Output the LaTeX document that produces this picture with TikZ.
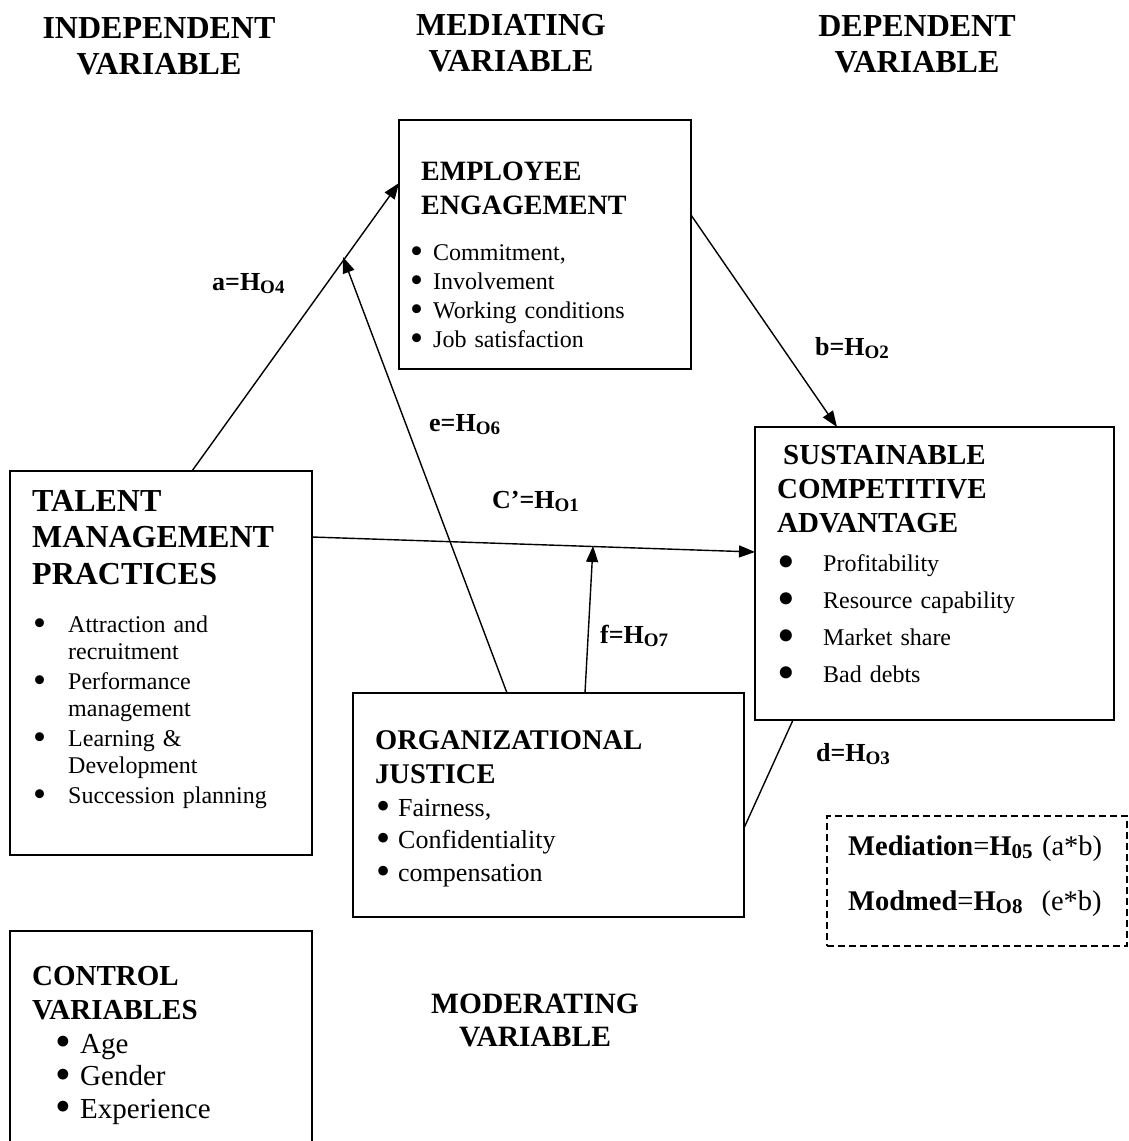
\documentclass[tikz,border=0pt]{standalone}
\usepackage{fontspec}
\usepackage{graphicx}
\setmainfont{Liberation Serif}
\usetikzlibrary{arrows.meta}

% bullet set in a box of given width, and a bigger one for the outcome list
\newcommand{\bul}[1]{\makebox[#1][l]{\smash{\raisebox{-0.13em}{\scalebox{1.55}{\textbullet}}}}}
\newcommand{\bigbul}{\makebox[46pt][l]{\smash{\raisebox{-0.3em}{\scalebox{2.1}{\textbullet}}}}}
% hypothesis label: letter = H with a lowered index
\newcommand{\hyp}[2]{#1=H\raisebox{-3pt}{\fontsize{19}{19}\selectfont #2}}
\newcommand{\msub}[1]{\raisebox{-3pt}{\fontsize{21}{21}\selectfont\bfseries #1}}

\begin{document}
\begin{tikzpicture}[x=1pt,y=-1pt,
    tbox/.style={draw, line width=2pt, inner sep=0pt, outer sep=0pt, anchor=north west},
    btext/.style={inner sep=0pt, anchor=base west, align=left, text width=#1},
    head/.style={inner sep=0pt, anchor=base, align=center, text width=300pt,
                 font=\fontsize{32}{36.5}\selectfont\bfseries},
    hlabel/.style={inner sep=0pt, anchor=base west, font=\fontsize{26}{26}\selectfont\bfseries},
    link/.style={line width=1.4pt, -{Triangle[length=16pt,width=12pt]}}]
  \useasboundingbox (0,0) rectangle (1128,1141);

  % --------------
  % column headings
  % --------------
  \node[head] (indep) at (159,38) {INDEPENDENT\\VARIABLE};
  \node[head] (medi) at (511,35) {MEDIATING\\VARIABLE};
  \node[head] (dep) at (917,36) {DEPENDENT\\VARIABLE};
  \node[head, font=\fontsize{29.5}{33}\selectfont\bfseries] (moder) at (535,1013) {MODERATING\\VARIABLE};

  % ---------
  % the boxes
  % ---------
  \node[tbox, minimum width=292pt, minimum height=249pt] (ee) at (399,120) {};
  \node[tbox, minimum width=302pt, minimum height=384pt] (tmp) at (10,471) {};
  \node[tbox, minimum width=359pt, minimum height=293pt] (sca) at (755,427) {};
  \node[tbox, minimum width=391pt, minimum height=224pt] (oj) at (353,693) {};
  \node[tbox, minimum width=302pt, minimum height=240pt] (ctrl) at (10,931) {};
  \node[tbox, dash pattern=on 7pt off 4pt, minimum width=300pt, minimum height=130pt] (med) at (827,816) {};

  % ------------------
  % texts of the boxes
  % ------------------
  \node[btext=270pt, font=\fontsize{28}{34}\selectfont\bfseries] (ee-title) at (421,180) {EMPLOYEE\\ENGAGEMENT};
  \node[btext=270pt, font=\fontsize{24}{29}\selectfont] (ee-list) at (410,260)
    {\bul{23pt}Commitment,\\\bul{23pt}Involvement\\\bul{23pt}Working conditions\\\bul{23pt}Job satisfaction};

  \node[btext=280pt, font=\fontsize{32}{36.5}\selectfont\bfseries] (tmp-title) at (32,511) {TALENT\\MANAGEMENT\\PRACTICES};
  \node[btext=270pt, font=\fontsize{24}{27}\selectfont] (tmp-list) at (33,632)
    {\bul{35pt}Attraction and\\\hspace*{35pt}recruitment\\[3pt]\bul{35pt}Performance\\\hspace*{35pt}management\\[3pt]%
     \bul{35pt}Learning \&\\\hspace*{35pt}Development\\[3pt]\bul{35pt}Succession planning};

  \node[btext=330pt, font=\fontsize{29}{34}\selectfont\bfseries] (sca-title) at (777,464)
    {\hspace*{6pt}SUSTAINABLE\\COMPETITIVE\\ADVANTAGE};
  \node[btext=330pt, font=\fontsize{24}{37}\selectfont] (sca-list) at (777,571)
    {\bigbul Profitability\\\bigbul Resource capability\\\bigbul Market share\\\bigbul Bad debts};

  \node[btext=360pt, font=\fontsize{28.5}{34}\selectfont\bfseries] (oj-title) at (375,749) {ORGANIZATIONAL\\JUSTICE};
  \node[btext=360pt, font=\fontsize{26}{32.5}\selectfont] (oj-list) at (376,816)
    {\bul{22pt}Fairness,\\\bul{22pt}Confidentiality\\\bul{22pt}compensation};

  \node[btext=270pt, font=\fontsize{29}{34}\selectfont\bfseries] (ctrl-title) at (32,985) {CONTROL\\VARIABLES};
  \node[btext=250pt, font=\fontsize{29}{32.5}\selectfont] (ctrl-list) at (55,1053)
    {\bul{25pt}Age\\\bul{25pt}Gender\\\bul{25pt}Experience};

  \node[btext=280pt, font=\fontsize{28.5}{55}\selectfont] (med-text) at (848,855)
    {\textbf{Mediation}=\textbf{H\msub{05}} (a*b)\\\textbf{Modmed}=\textbf{H\msub{O8}}\ \ (e*b)};

  % -----------------
  % hypothesis labels
  % -----------------
  \node[hlabel] (lab-a) at (212,290) {\hyp{a}{O4}};
  \node[hlabel] (lab-b) at (815,355) {\hyp{b}{O2}};
  \node[hlabel] (lab-e) at (429,431) {\hyp{e}{O6}};
  \node[hlabel] (lab-c) at (492,508) {\hyp{C’}{O1}};
  \node[hlabel] (lab-f) at (600,643) {\hyp{f}{O7}};
  \node[hlabel] (lab-d) at (816,761) {\hyp{d}{O3}};

  % ----------
  % connectors
  % ----------
  \coordinate (etip) at (343,257);
  \coordinate (ftip) at (593,546);
  \draw[link] ([xshift=182pt]tmp.north west) -- ([yshift=-63pt]ee.north west);
  \draw[link] ([yshift=-95pt]ee.north east) -- ([xshift=82pt]sca.north west);
  \draw[link] ([yshift=-66pt]tmp.north east) -- ([yshift=-125pt]sca.north west);
  \draw[link] ([xshift=154pt]oj.north west) -- (etip);
  \draw[link] ([xshift=232pt]oj.north west) -- (ftip);
  \draw[line width=1.4pt] ([yshift=-135pt]oj.north east) -- ([xshift=38pt]sca.south west);
\end{tikzpicture}
\end{document}
